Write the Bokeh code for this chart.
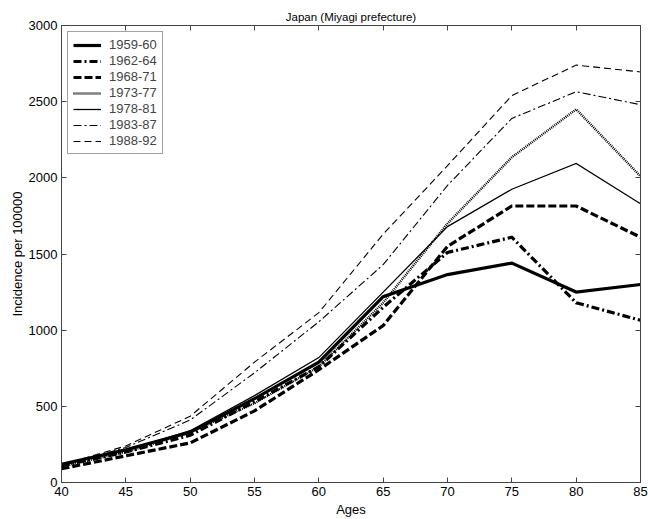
from bokeh.plotting import figure
from bokeh.models import LinearAxis, Range1d, Legend, LegendItem, FixedTicker, Title
from bokeh.embed import file_html
from bokeh.resources import INLINE

ages = [40, 45, 50, 55, 60, 65, 70, 75, 80, 85]
s1959_60 = [120, 215, 330, 550, 790, 1220, 1365, 1440, 1250, 1300]
s1962_64 = [110, 200, 310, 530, 760, 1150, 1510, 1610, 1180, 1065]
s1968_71 = [90, 175, 260, 470, 740, 1030, 1550, 1815, 1815, 1610]
s1973_77 = [105, 200, 330, 520, 760, 1180, 1700, 2135, 2450, 2010]
s1978_81 = [115, 210, 340, 570, 820, 1250, 1680, 1925, 2095, 1830]
s1983_87 = [110, 230, 410, 720, 1055, 1430, 1950, 2390, 2565, 2480]
s1988_92 = [115, 240, 435, 790, 1115, 1630, 2080, 2540, 2740, 2695]
labels = ["1959-60", "1962-64", "1968-71", "1973-77", "1978-81", "1983-87", "1988-92"]
x_ticks = [40, 45, 50, 55, 60, 65, 70, 75, 80, 85]
y_ticks = [0, 500, 1000, 1500, 2000, 2500, 3000]

FONT = "Liberation Sans"
AX = "#444444"

p = figure(width=648, height=519, output_backend="svg", toolbar_location=None,
           x_range=Range1d(40, 85), y_range=Range1d(0, 3000),
           min_border_left=61, min_border_right=8, min_border_top=25, min_border_bottom=36)
p.title = None
p.xgrid.visible = False
p.ygrid.visible = False
p.outline_line_color = AX
p.outline_line_width = 1
p.background_fill_color = "white"
p.border_fill_color = "white"

xb = p.below[0]
yl = p.left[0]
for ax, tk in ((xb, x_ticks), (yl, y_ticks)):
    ax.ticker = FixedTicker(ticks=tk)
    ax.axis_line_color = AX
    ax.major_tick_line_color = AX
    ax.major_tick_in = 5
    ax.major_tick_out = 0
    ax.minor_tick_line_color = None
    ax.major_label_text_font = FONT
    ax.major_label_text_font_size = "13px"
    ax.major_label_text_color = "black"
    ax.axis_label_text_font = FONT
    ax.axis_label_text_font_size = "13px"
    ax.axis_label_text_font_style = "normal"
    ax.axis_label_text_color = "black"
xb.axis_label = "Ages"
yl.axis_label = "Incidence per 100000"
xb.major_label_standoff = 4
xb.axis_label_standoff = 3
yl.major_label_standoff = 4
yl.axis_label_standoff = 1

for side, tk in (("right", y_ticks), ("above", x_ticks)):
    a = LinearAxis(ticker=FixedTicker(ticks=tk), major_label_text_color=None,
                   major_label_text_font_size="1px",
                   major_tick_in=5, major_tick_out=0, minor_tick_line_color=None,
                   axis_line_color=AX, major_tick_line_color=AX, major_label_standoff=0)
    p.add_layout(a, side)

p.add_layout(Title(text="Japan (Miyagi prefecture)", align="center", text_font=FONT,
                   text_font_size="11.5px", text_font_style="normal", text_color="black",
                   vertical_align="top", standoff=2), "above")

series = [s1959_60, s1962_64, s1968_71, s1973_77, s1978_81, s1983_87, s1988_92]
styles = [
    dict(line_width=3.2, line_dash="solid"),
    dict(line_width=3.2, line_dash="8 3 2 3"),
    dict(line_width=3.2, line_dash="8 3"),
    dict(line_width=2.4, line_dash="1 1"),
    dict(line_width=1.3, line_dash="solid"),
    dict(line_width=1.1, line_dash="8 3 2 3"),
    dict(line_width=1.1, line_dash="7 4"),
]
items = []
for lab, ys, st in zip(labels, series, styles):
    r = p.line(ages, ys, line_color="black", line_cap="butt", line_join="miter", **st)
    items.append(LegendItem(label=lab, renderers=[r]))

leg = Legend(items=items, location="top_left", label_text_font=FONT, label_text_font_size="13px",
             border_line_color=AX, border_line_width=1, background_fill_alpha=1,
             label_height=14, glyph_height=14, glyph_width=28, spacing=1, padding=5,
             margin=6, label_standoff=8)
p.add_layout(leg)

open("out.html", "w").write(file_html(p, INLINE))
